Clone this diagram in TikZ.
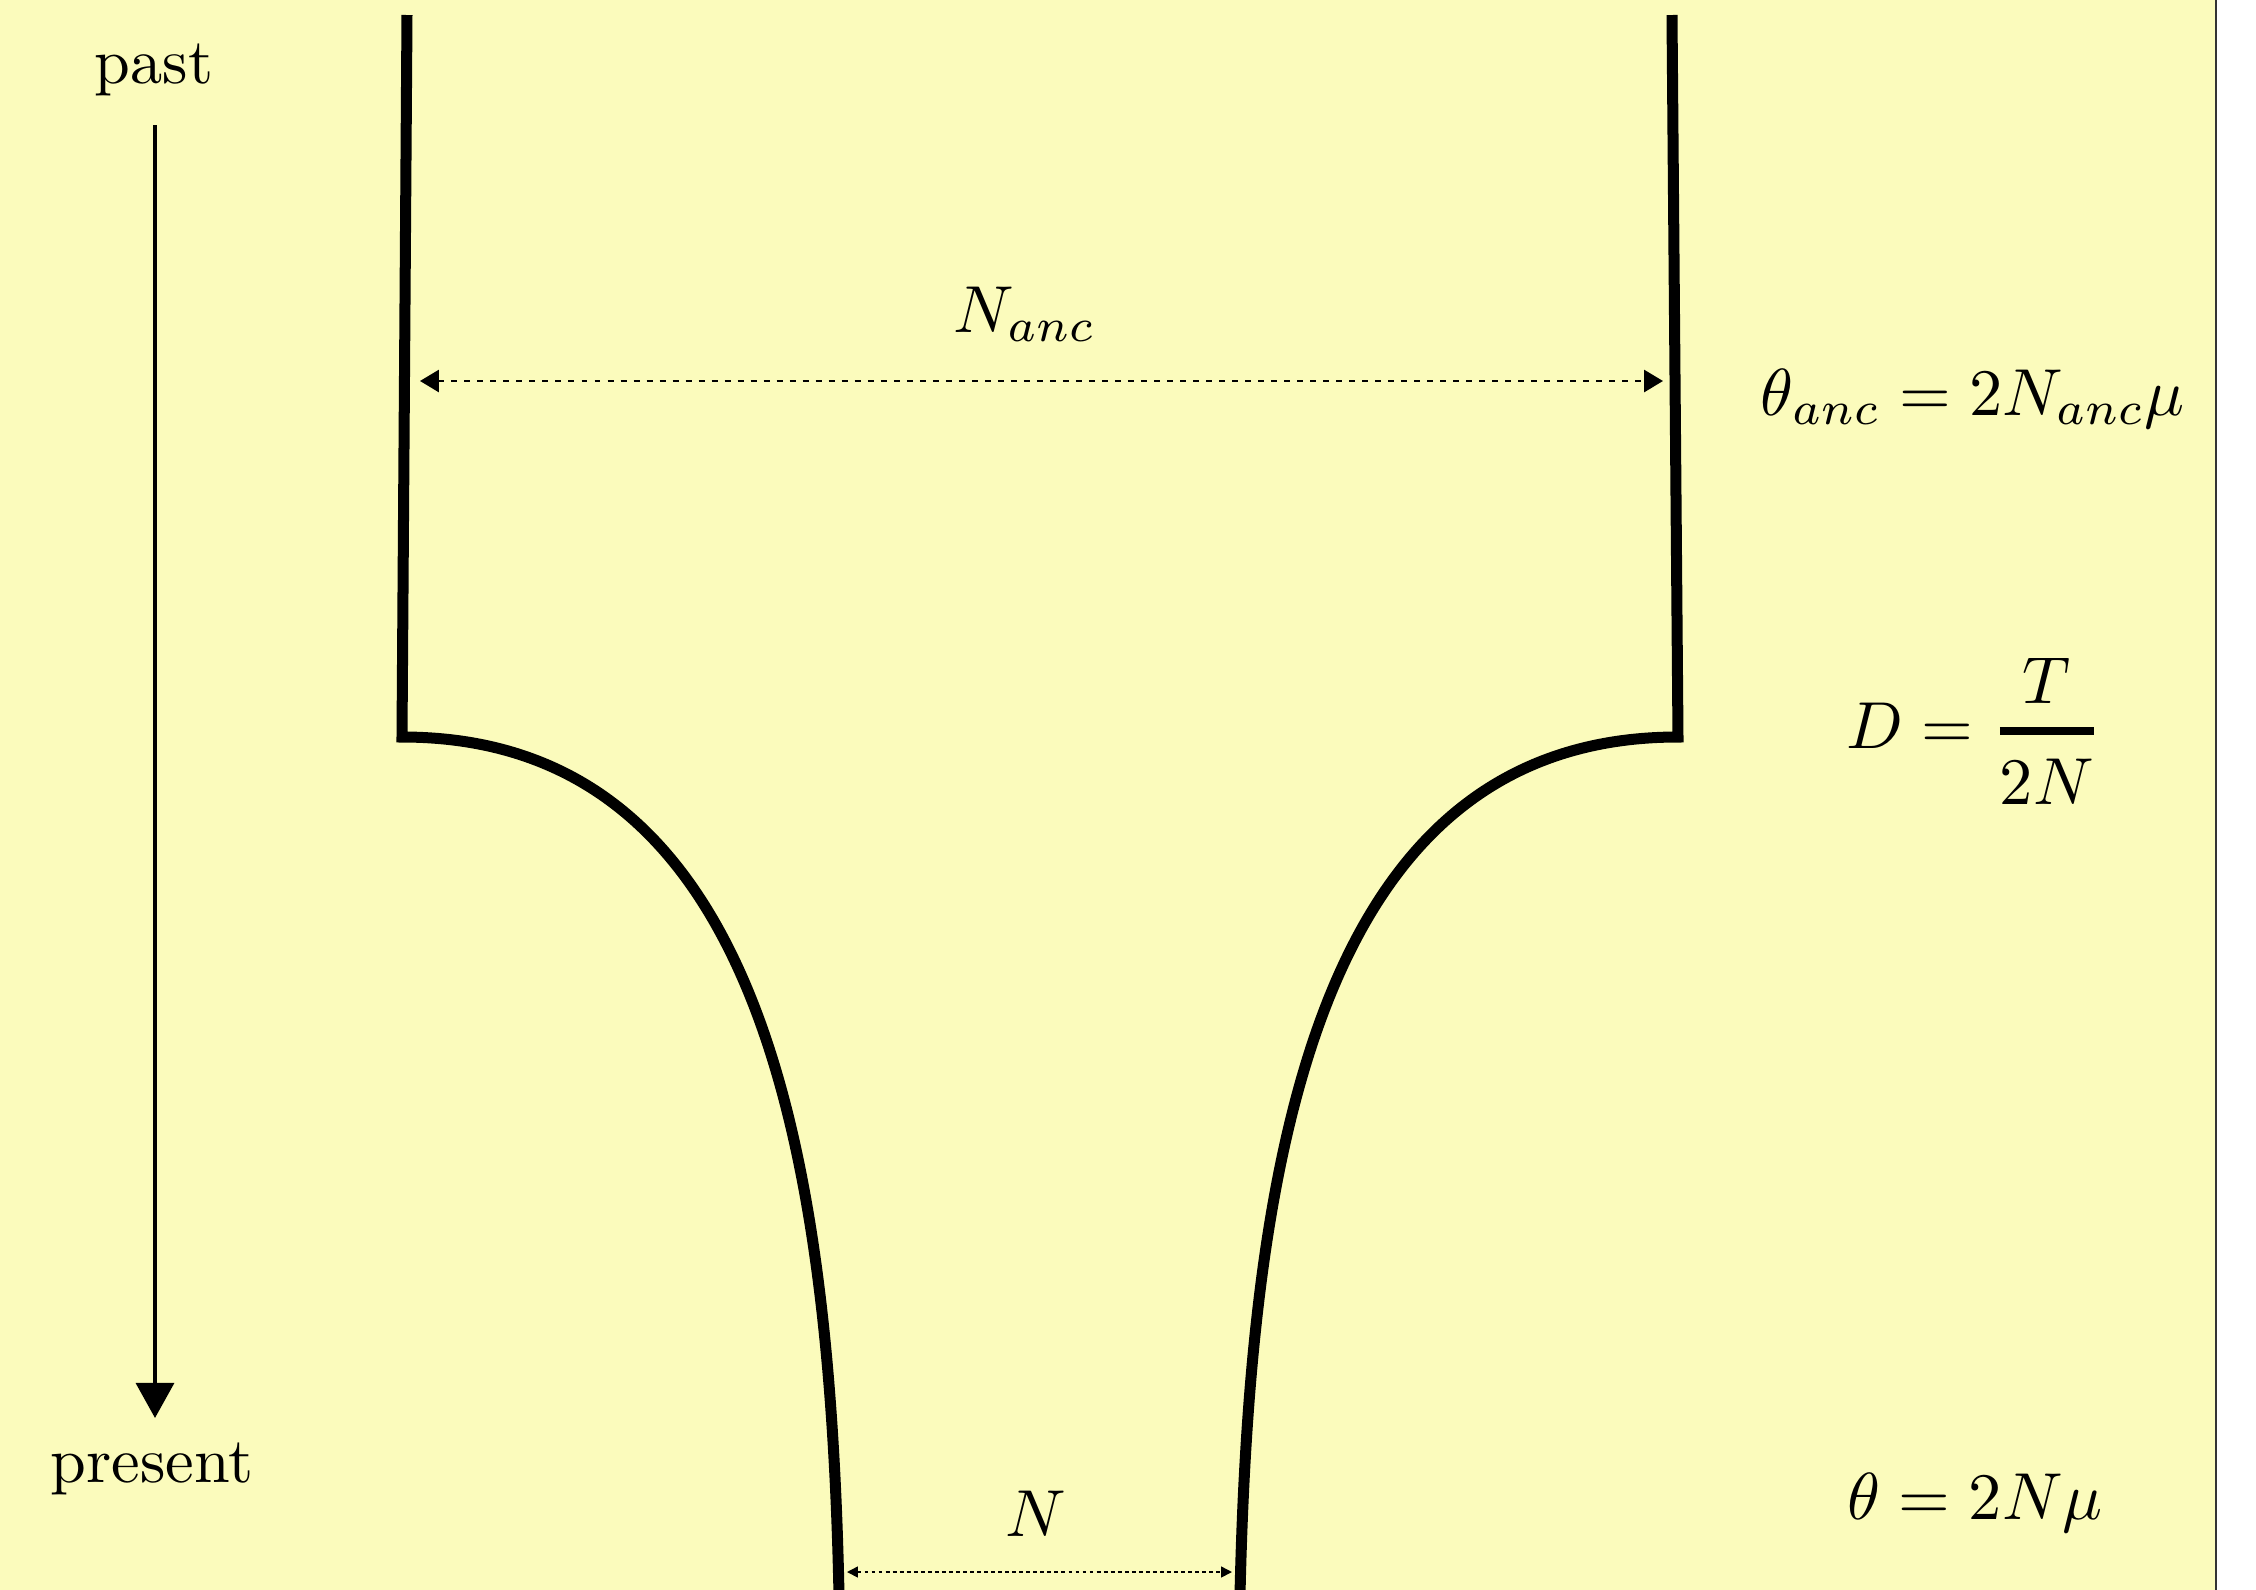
\documentclass[tikz,border=0pt]{standalone}
\usepackage{graphicx}
\usepackage{amsmath}
\usetikzlibrary{arrows.meta}
\definecolor{bgyellow}{RGB}{251,251,188}
\definecolor{framegray}{RGB}{51,51,51}
\newcommand{\bigtxt}[1]{\scalebox{1.83}{#1}}
\newcommand{\bigmath}[1]{\scalebox{1.89}{#1}}
\begin{document}
\begin{tikzpicture}[x=0.01cm,y=-0.01cm,
  lbl/.style={inner sep=0pt, anchor=base},
  wall/.style={line width=3.13pt, line join=miter},
  timearrow/.style={line width=1.1pt, -{Triangle[length=10pt,width=10.8pt]}},
  widthA/.style={line width=0.7pt, dash pattern=on 1.7pt off 2pt, {Triangle[length=5.4pt,width=6.3pt]}-{Triangle[length=5.4pt,width=6.3pt]}},
  widthB/.style={line width=0.45pt, dash pattern=on 1.1pt off 0.9pt, {Triangle[length=3.1pt,width=3.1pt]}-{Triangle[length=3.1pt,width=3.1pt]}},
]
\useasboundingbox (0,0) rectangle (2256,1590);
\fill[bgyellow] (0,0) rectangle (2216,1590);
\draw[framegray, line width=0.57pt] (2216,0) -- (2216,1590);

% population walls
\coordinate (LT) at (407,15);
\coordinate (LB) at (402,737);
\coordinate (LE) at (839,1595);
\coordinate (RT) at (1672,15);
\coordinate (RB) at (1678,737);
\coordinate (RE) at (1240,1595);
\draw[wall] (LT) -- (LB) .. controls (760,737) and (830,1150) .. (LE);
\draw[wall] (RT) -- (RB) .. controls (1320,737) and (1250,1150) .. (RE);

% width arrows
\coordinate (AL) at (420,381);
\coordinate (AR) at (1663,381);
\draw[widthA] (AL) -- (AR);
\coordinate (BL) at (847,1572);
\coordinate (BR) at (1232,1572);
\draw[widthB] (BL) -- (BR);

% time arrow
\coordinate (TA) at (155,125);
\coordinate (TB) at (155,1418);
\draw[timearrow] (TA) -- (TB);

% labels
\node[lbl] (past) at (154,83) {\bigtxt{past}};
\node[lbl] (present) at (152,1482) {\bigtxt{present}};
\node[lbl] (nanc) at (1025,332) {\bigmath{$N_{anc}$}};
\node[lbl] (thetaanc) at (1973,415) {\bigmath{$\theta_{anc} = 2N_{anc}\mu$}};
\node[lbl] (dform) at (1974,748) {\bigmath{$D = \genfrac{}{}{1.2pt}{0}{T}{2N}$}};
\node[lbl] (theta) at (1975,1519) {\bigmath{$\theta = 2N\mu$}};
\node[lbl] (nlab) at (1036,1536) {\bigmath{$N$}};
\end{tikzpicture}
\end{document}
